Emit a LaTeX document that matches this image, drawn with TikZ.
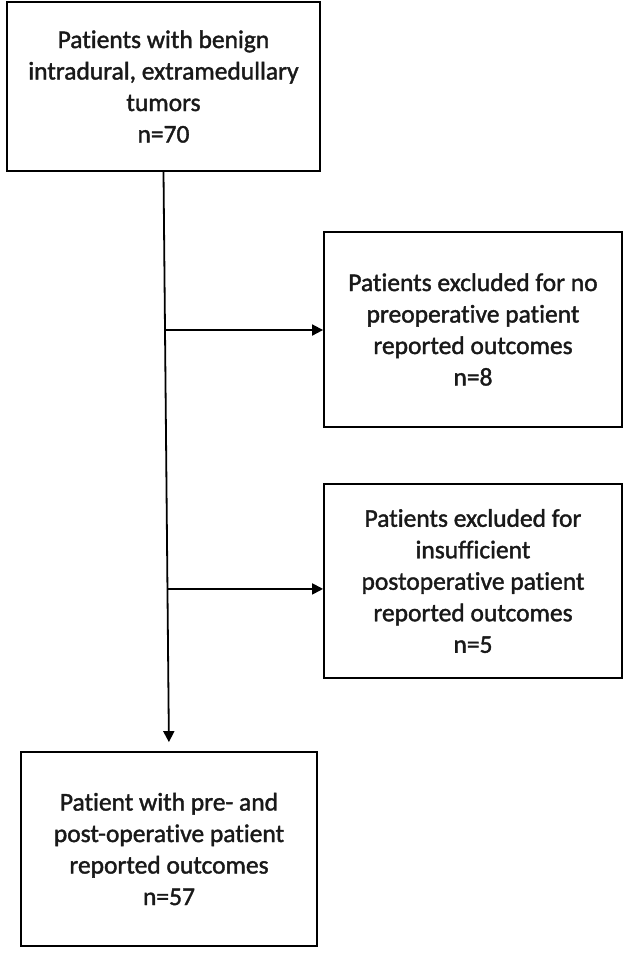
\documentclass[tikz,border=0pt]{standalone}
\usepackage{fontspec}
\setmainfont[Ligatures=NoCommon, FakeBold=1.5]{Carlito}
\usetikzlibrary{arrows.meta,calc}
\begin{document}
\begin{tikzpicture}[x=1pt,y=1pt,
  box/.style={draw=black, line width=1.8pt, align=center, inner sep=0pt,
    font=\fontsize{25.5}{31.5}\selectfont, text=black!90},
  conn/.style={line width=1.8pt, -{Triangle[length=11pt,width=11pt]}}]
\useasboundingbox (0,0) rectangle (630,-955);
\node[box, minimum width=313pt, minimum height=169pt] (top) at (163.5,-86.5)
  {Patients with benign\\intradural, extramedullary\\tumors\\n=70};
\node[box, minimum width=298pt, minimum height=195pt] (ex1) at (473,-329.5)
  {Patients excluded for no\\preoperative patient\\reported outcomes\\n=8};
\node[box, minimum width=298pt, minimum height=194pt] (ex2) at (473,-581)
  {Patients excluded for\\insufficient\\postoperative patient\\reported outcomes\\n=5};
\node[box, minimum width=296pt, minimum height=194pt] (bot) at (169,-849)
  {Patient with pre- and\\post-operative patient\\reported outcomes\\n=57};
\draw[conn, shorten >=9pt] (top.south) -- (bot.north);
\coordinate (j1) at ($(top.south)!0.273!(bot.north)$);
\coordinate (j2) at ($(top.south)!0.72!(bot.north)$);
\draw[conn] (j1) -- (j1 -| ex1.west);
\draw[conn] (j2) -- (j2 -| ex2.west);
\end{tikzpicture}
\end{document}
